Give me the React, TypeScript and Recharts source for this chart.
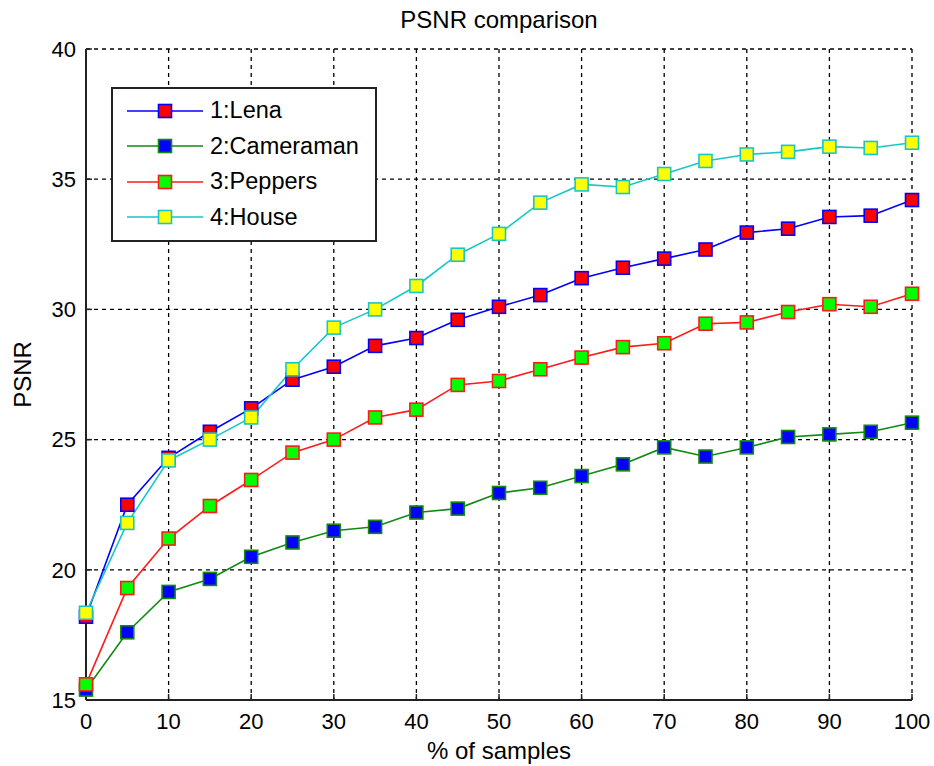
import { LineChart, Line, XAxis, YAxis, CartesianGrid, Legend } from "recharts";

const samples = [0, 5, 10, 15, 20, 25, 30, 35, 40, 45, 50, 55, 60, 65, 70, 75, 80, 85, 90, 95, 100];
const lena = [18.2, 22.5, 24.3, 25.3, 26.2, 27.3, 27.8, 28.6, 28.9, 29.6, 30.1, 30.55, 31.2, 31.6, 31.95, 32.3, 32.95, 33.1, 33.55, 33.6, 34.2];
const cameraman = [15.4, 17.6, 19.15, 19.65, 20.5, 21.05, 21.5, 21.65, 22.2, 22.35, 22.95, 23.15, 23.6, 24.05, 24.7, 24.35, 24.7, 25.1, 25.2, 25.3, 25.65];
const peppers = [15.6, 19.3, 21.2, 22.45, 23.45, 24.5, 25.0, 25.85, 26.15, 27.1, 27.25, 27.7, 28.15, 28.55, 28.7, 29.45, 29.5, 29.9, 30.2, 30.1, 30.6];
const house = [18.35, 21.8, 24.2, 25.0, 25.85, 27.7, 29.3, 30.0, 30.9, 32.1, 32.9, 34.1, 34.8, 34.7, 35.2, 35.7, 35.95, 36.05, 36.25, 36.2, 36.4];

const xTicks = [0, 10, 20, 30, 40, 50, 60, 70, 80, 90, 100];
const yTicks = [15, 20, 25, 30, 35, 40];

const series = [
  { key: "lena", name: "1:Lena", line: "#0000ff", fill: "#ff0000" },
  { key: "cameraman", name: "2:Cameraman", line: "#118a11", fill: "#0000ff" },
  { key: "peppers", name: "3:Peppers", line: "#ff1a1a", fill: "#00ff00" },
  { key: "house", name: "4:House", line: "#19c6c6", fill: "#ffff00" },
];

const data = samples.map((x, i) => ({
  x,
  lena: lena[i],
  cameraman: cameraman[i],
  peppers: peppers[i],
  house: house[i],
}));

const FONT = "'Liberation Sans', Arial, sans-serif";

function squareDot(fill: string, stroke: string) {
  return (props: any) => {
    const { cx, cy, index } = props;
    if (cx == null || cy == null) return <g key={index} />;
    return (
      <rect key={index} x={cx - 6.5} y={cy - 6.5} width={13} height={13} fill={fill} stroke={stroke} strokeWidth={1.6} />
    );
  };
}

function LegendBox() {
  return (
    <div
      style={{
        width: 262,
        height: 147,
        border: "2px solid #222",
        background: "#fff",
        paddingTop: 4,
        boxSizing: "content-box",
        fontFamily: FONT,
        fontSize: 23.5,
        color: "#000",
      }}
    >
      {series.map((s) => (
        <div key={s.key} style={{ height: 35.5, display: "flex", alignItems: "center", paddingLeft: 14 }}>
          <svg width={78} height={16} style={{ display: "block" }}>
            <line x1={0} y1={8} x2={76} y2={8} stroke={s.line} strokeWidth={1.6} />
            <rect x={31.5} y={1.5} width={13} height={13} fill={s.fill} stroke={s.line} strokeWidth={1.6} />
          </svg>
          <span style={{ marginLeft: 5, lineHeight: 1 }}>{s.name}</span>
        </div>
      ))}
    </div>
  );
}

export default function App() {
  return (
    <div style={{ position: "absolute", left: 0, top: 0, width: 934, height: 766, background: "#fff" }}>
      <div
        style={{
          position: "absolute",
          left: 86,
          width: 826,
          top: 6,
          textAlign: "center",
          fontFamily: FONT,
          fontSize: 24,
          color: "#000",
        }}
      >
        PSNR comparison
      </div>
      <LineChart
        width={934}
        height={766}
        data={data}
        margin={{ top: 49, right: 22, bottom: 0, left: 0 }}
        style={{ fontFamily: FONT }}
      >
        <CartesianGrid stroke="#000" strokeDasharray="4 4" strokeWidth={1.3} />
        <XAxis
          dataKey="x"
          type="number"
          domain={[0, 100]}
          ticks={xTicks}
          height={66}
          tickSize={-6}
          tickMargin={19}
          axisLine={{ stroke: "#222", strokeWidth: 2 }}
          tickLine={{ stroke: "#222", strokeWidth: 1.5 }}
          tick={{ fontSize: 22, fill: "#000" }}
          label={{ value: "% of samples", position: "insideBottom", offset: 7, fontSize: 24, fill: "#000" }}
        />
        <XAxis
          xAxisId="top"
          orientation="top"
          dataKey="x"
          type="number"
          domain={[0, 100]}
          ticks={xTicks}
          height={0}
          tickSize={-6}
          tickFormatter={() => ""}
          axisLine={{ stroke: "#222", strokeWidth: 2 }}
          tickLine={{ stroke: "#222", strokeWidth: 1.5 }}
        />
        <YAxis
          type="number"
          domain={[15, 40]}
          ticks={yTicks}
          width={86}
          tickSize={-6}
          tickMargin={16}
          axisLine={{ stroke: "#222", strokeWidth: 2 }}
          tickLine={{ stroke: "#222", strokeWidth: 1.5 }}
          tick={{ fontSize: 22, fill: "#000" }}
          label={{
            value: "PSNR",
            position: "insideLeft",
            content: (props: any) => {
              const vb = props.viewBox;
              const cx = 22;
              const cy = vb.y + vb.height / 2;
              return (
                <text x={cx} y={cy} transform={`rotate(-90 ${cx} ${cy})`} textAnchor="middle" dominantBaseline="central" fontSize={24} fill="#000">
                  PSNR
                </text>
              );
            },
          }}
        />
        <YAxis
          yAxisId="right"
          orientation="right"
          type="number"
          domain={[15, 40]}
          ticks={yTicks}
          width={0}
          tickSize={-6}
          tickFormatter={() => ""}
          axisLine={{ stroke: "#222", strokeWidth: 2 }}
          tickLine={{ stroke: "#222", strokeWidth: 1.5 }}
        />
        {series.map((s) => (
          <Line
            key={s.key}
            dataKey={s.key}
            name={s.name}
            type="linear"
            stroke={s.line}
            strokeWidth={1.6}
            dot={squareDot(s.fill, s.line)}
            activeDot={false}
            isAnimationActive={false}
          />
        ))}
        <Legend
          layout="vertical"
          align="center"
          verticalAlign="middle"
          content={() => <LegendBox />}
          wrapperStyle={{ left: 111, top: 87, width: 270, height: 155 }}
        />
      </LineChart>
    </div>
  );
}
